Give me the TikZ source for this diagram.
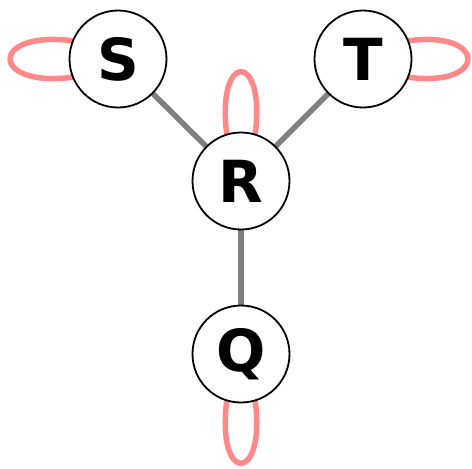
\documentclass[tikz,border=0pt]{standalone}
\usepackage{fontspec}
\setmainfont{DejaVu Sans}
\usetikzlibrary{backgrounds}
\definecolor{edgegray}{HTML}{808080}
\definecolor{looppink}{HTML}{FF8888}
\tikzset{
  vert/.style={circle, draw=black, line width=1.8pt, fill=white, minimum size=97pt, inner sep=0pt, outer sep=0pt, font=\fontsize{58}{58}\selectfont\bfseries},
  link/.style={draw=edgegray, line width=5.5pt},
  selfloop/.style={draw=looppink, line width=5.5pt}
}
\begin{document}
\begin{tikzpicture}[x=1pt, y=-1pt]
\useasboundingbox (0,0) rectangle (472,469);
\node[vert] (S) at (118,59) {S};
\node[vert] (T) at (363,59) {T};
\node[vert] (R) at (241,181) {R};
\node[vert] (Q) at (241,354) {Q};
\begin{scope}[on background layer]
\draw[link] (R) -- (S);
\draw[link] (R) -- (T);
\draw[link] (R) -- (Q);
\draw[selfloop] (S.158) .. controls +(-84,-11) and +(-84,11) .. (S.202);
\draw[selfloop] (T.22) .. controls +(80,-11) and +(80,11) .. (T.-22);
\draw[selfloop] (R.107) .. controls +(-11,-84) and +(11,-84) .. (R.73);
\draw[selfloop] (Q.253) .. controls +(-11,84) and +(11,84) .. (Q.287);
\end{scope}
\end{tikzpicture}
\end{document}
